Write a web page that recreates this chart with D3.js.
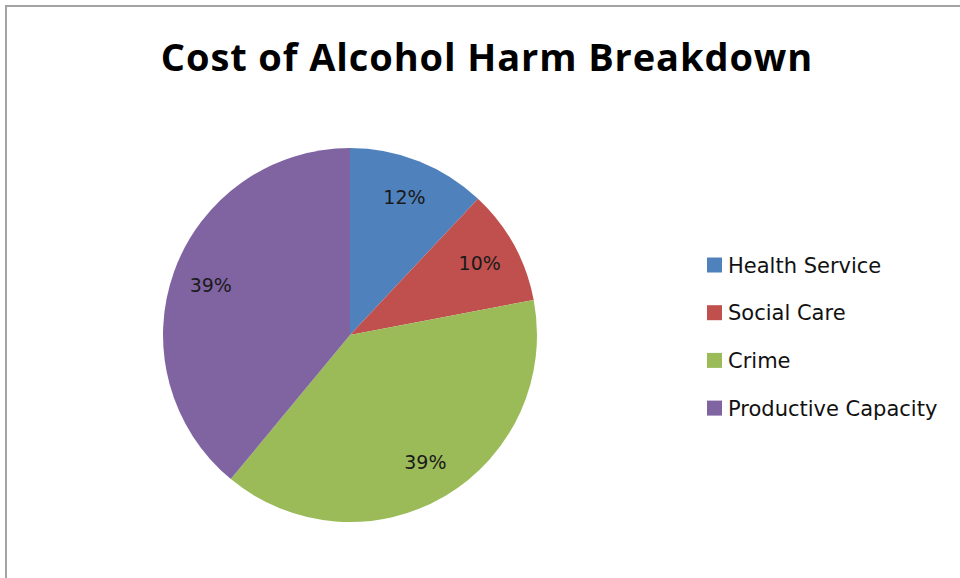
<!DOCTYPE html>
<html>
<head>
<meta charset="utf-8">
<script src="https://cdn.jsdelivr.net/npm/d3@7/dist/d3.min.js"></script>
<style>
  html, body { margin: 0; padding: 0; background: #fff; }
  svg { display: block; }
</style>
</head>
<body>
<svg id="chart" width="960" height="578"></svg>
<script>
// Cost breakdown shares (percent)
const categories = ["Health Service", "Social Care", "Crime", "Productive Capacity"];
const values = [12, 10, 39, 39];
const colors = ["#4f81bd", "#c0504d", "#9bbb59", "#8064a2"];
const title = "Cost of Alcohol Harm Breakdown";

const svg = d3.select("#chart");
const W = 960, H = 578;

// chart frame
svg.append("rect")
  .attr("x", 6).attr("y", 6)
  .attr("width", W + 10).attr("height", H + 10)
  .attr("fill", "#fff")
  .attr("stroke", "#a3a3a3")
  .attr("stroke-width", 2);

svg.append("text")
  .attr("x", 487).attr("y", 71)
  .attr("text-anchor", "middle")
  .attr("font-family", "'Open Sans', sans-serif")
  .attr("font-weight", "bold")
  .attr("font-size", 38)
  .attr("letter-spacing", 0.9)
  .attr("fill", "#000")
  .text(title);

const cx = 350, cy = 335, r = 187;
const data = categories.map((c, i) => ({ name: c, value: values[i], color: colors[i] }));

const pie = d3.pie().sort(null).value(d => d.value).startAngle(0).endAngle(2 * Math.PI);
const arc = d3.arc().innerRadius(0).outerRadius(r);
const labelArc = d3.arc().innerRadius(148).outerRadius(148);

const g = svg.append("g").attr("transform", `translate(${cx},${cy})`);
const arcs = pie(data);

g.selectAll("path.slice")
  .data(arcs)
  .join("path")
  .attr("class", "slice")
  .attr("d", arc)
  .attr("fill", d => d.data.color);

g.selectAll("text.pct")
  .data(arcs)
  .join("text")
  .attr("class", "pct")
  .attr("transform", d => `translate(${labelArc.centroid(d)})`)
  .attr("text-anchor", "middle")
  .attr("dy", "0.35em")
  .attr("font-family", "'DejaVu Sans', sans-serif")
  .attr("font-size", 19)
  .attr("fill", "#1a1a1a")
  .text(d => d3.format(".0f")(d.data.value) + "%");

// legend
const legend = svg.append("g").attr("transform", "translate(707,265)");
const rows = legend.selectAll("g.row")
  .data(data)
  .join("g")
  .attr("class", "row")
  .attr("transform", (d, i) => `translate(0,${i * 47.7})`);

rows.append("rect")
  .attr("x", 0).attr("y", -7.5)
  .attr("width", 15).attr("height", 15)
  .attr("fill", d => d.color);

rows.append("text")
  .attr("x", 21).attr("y", 0)
  .attr("dy", "0.36em")
  .attr("font-family", "'DejaVu Sans', sans-serif")
  .attr("font-size", 21)
  .attr("fill", "#111")
  .text(d => d.name);
</script>
</body>
</html>
